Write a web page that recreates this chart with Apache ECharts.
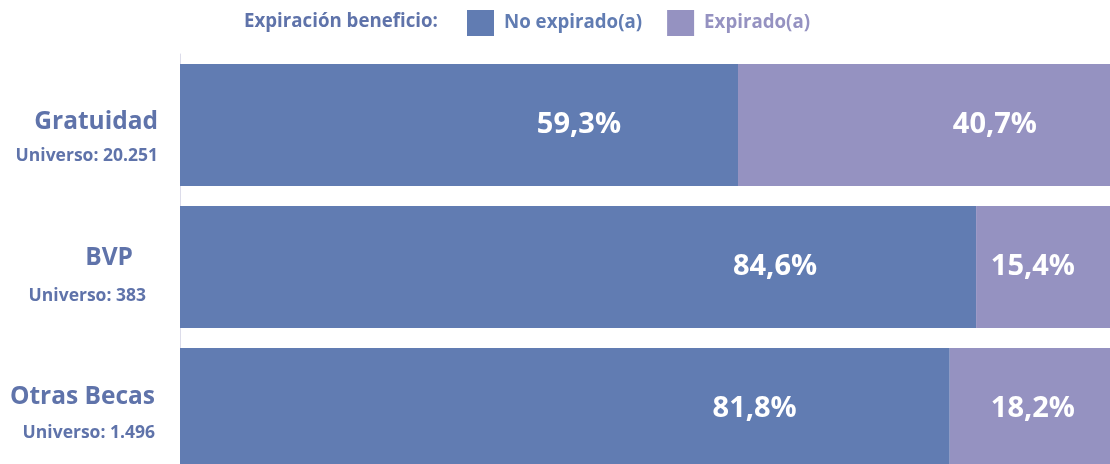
<!DOCTYPE html>
<html>
<head>
<meta charset="utf-8">
<script src="https://cdn.jsdelivr.net/npm/echarts@6/dist/echarts.min.js"></script>
<style>
html,body{margin:0;padding:0;background:#fff;}
#chart{width:1110px;height:464px;}
</style>
</head>
<body>
<div id="chart"></div>
<script>
var categories = ['Gratuidad', 'BVP', 'Otras Becas'];
var universe = ['20.251', '383', '1.496'];
var noExpirado = [59.3, 84.6, 81.8];
var expirado = [40.7, 15.4, 18.2];
var seriesNames = ['No expirado(a)', 'Expirado(a)'];
var legendTitle = 'Expiración beneficio:';

var blue = '#617cb2';
var purple = '#9592c1';
var textColor = '#5f73aa';
var font = '"Open Sans", sans-serif';

// label distances from segment end (style only)
var distNo = [117, 159, 153];
var distEx = [84, 46, 46];

function fmt(v) { return v.toFixed(1).replace('.', ',') + '%'; }

function nameStyle(lh, pr) {
  return { fontFamily: font, fontSize: 24.5, fontWeight: 'bold', color: textColor, lineHeight: lh, padding: [0, pr, 0, 0] };
}
function uniStyle(lh, pr) {
  return { fontFamily: font, fontSize: 17.5, fontWeight: 'bold', color: textColor, lineHeight: lh, padding: [0, pr, 0, 0] };
}

var chart = echarts.init(document.getElementById('chart'));
chart.setOption({
  animation: false,
  title: {
    text: legendTitle,
    left: 244, top: 12, padding: 0,
    textStyle: { fontFamily: font, fontSize: 18.7, fontWeight: 'bold', color: textColor }
  },
  legend: {
    left: 467, top: 10, padding: 0,
    itemWidth: 27, itemHeight: 26, itemGap: 25,
    icon: 'rect',
    textStyle: { fontFamily: font, fontSize: 18.7, fontWeight: 'bold', padding: [0,0,0,5] },
    data: [
      { name: seriesNames[0], textStyle: { color: blue } },
      { name: seriesNames[1], textStyle: { color: purple } }
    ]
  },
  grid: { left: 180, top: 54, width: 941, height: 426, outerBoundsMode: 'none', containLabel: false },
  xAxis: { type: 'value', min: 0, max: 100, show: false },
  yAxis: {
    type: 'category', inverse: true, data: categories,
    axisTick: { show: false },
    axisLine: { show: true, lineStyle: { color: '#dcdcea', width: 1 } },
    axisLabel: {
      margin: 22,
      align: 'right',
      padding: [28, 0, 0, 0],
      formatter: function (v, i) {
        return '{n' + i + '|' + v + '}\n{u' + i + '|Universo: ' + universe[i] + '}';
      },
      rich: {
        n0: nameStyle(35, 0),
        u0: uniStyle(33, 0),
        n1: nameStyle(30, 25),
        u1: uniStyle(45, 12),
        n2: nameStyle(21, 3),
        u2: uniStyle(51, 3)
      }
    }
  },
  series: [
    {
      name: seriesNames[0], type: 'bar', stack: 't', barCategoryGap: '14%',
      itemStyle: { color: blue },
      data: noExpirado.map(function (v, i) {
        return { value: v, label: { distance: distNo[i] } };
      }),
      label: {
        show: true, position: 'insideRight', formatter: function (p) { return fmt(p.value); },
        fontFamily: font, fontSize: 29, fontWeight: 'bold', color: '#fff'
      }
    },
    {
      name: seriesNames[1], type: 'bar', stack: 't',
      itemStyle: { color: purple },
      data: expirado.map(function (v, i) {
        return { value: v, label: { distance: distEx[i] } };
      }),
      label: {
        show: true, position: 'insideRight', formatter: function (p) { return fmt(p.value); },
        fontFamily: font, fontSize: 29, fontWeight: 'bold', color: '#fff'
      }
    }
  ]
});
</script>
</body>
</html>
